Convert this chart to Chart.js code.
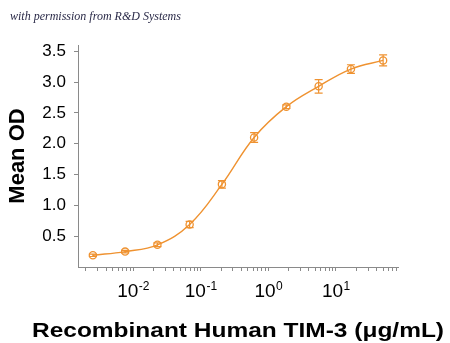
<!DOCTYPE html>
<html>
<head>
<meta charset="utf-8">
<script src="https://cdn.jsdelivr.net/npm/chart.js@4"></script>
<style>
    html, body { margin: 0; padding: 0; background: #fff; }
    #wrap { width: 450px; height: 343px; }
</style>
</head>
<body>
<div id="wrap"><canvas id="chart"></canvas></div>
<script>
// concentrations (ug/mL), 3-fold dilution series
const concentrations = [0.00254, 0.00762, 0.0229, 0.0686, 0.206, 0.617, 1.85, 5.56, 16.7, 50];
const meanOD = [0.19, 0.25, 0.36, 0.69, 1.34, 2.10, 2.60, 2.93, 3.21, 3.35];
const odError = [0.02, 0.02, 0.03, 0.05, 0.06, 0.08, 0.03, 0.11, 0.07, 0.09];

const yTicks = [0.5, 1.0, 1.5, 2.0, 2.5, 3.0, 3.5];
const xDecades = [0.01, 0.1, 1, 10];
const xDecadeExponents = ['-2', '-1', '0', '1'];
const xMin = 0.00153;
const xMax = 83;
const xTitle = 'Recombinant Human TIM-3 (\u03BCg/mL)';

const ORANGE = '#EF9230';
const AXIS = '#8a8a8a';
const SANS = 'Arial, "Liberation Sans", sans-serif';

const points = concentrations.map((x, i) => ({ x, y: meanOD[i] }));

// log ticks: 1..9 in each decade
const buildXTicks = () => {
    const ticks = [];
    [0.001, ...xDecades].forEach(d => {
        for (let k = 1; k <= 9; k++) {
            const v = d * k;
            if (v >= xMin && v <= xMax) ticks.push({ value: v, major: k === 1 });
        }
    });
    return ticks;
};

const errorBars = {
    id: 'errorBars',
    afterDatasetsDraw(chart) {
        const { ctx, scales: { y } } = chart;
        const meta = chart.getDatasetMeta(1);
        ctx.save();
        ctx.strokeStyle = ORANGE;
        ctx.lineWidth = 1.2;
        meta.data.forEach((pt, i) => {
            const top = y.getPixelForValue(meanOD[i] + odError[i]);
            const bot = y.getPixelForValue(meanOD[i] - odError[i]);
            ctx.beginPath();
            ctx.moveTo(pt.x, top); ctx.lineTo(pt.x, bot);
            ctx.moveTo(pt.x - 4, top); ctx.lineTo(pt.x + 4, top);
            ctx.moveTo(pt.x - 4, bot); ctx.lineTo(pt.x + 4, bot);
            ctx.stroke();
        });
        ctx.restore();
    }
};

// "10" with a superscript exponent under each decade tick, plus the x title
const xLabels = {
    id: 'xLabels',
    afterDraw(chart) {
        const { ctx, chartArea, scales: { x } } = chart;
        const baseY = chartArea.bottom + 30;
        ctx.save();
        ctx.fillStyle = '#000';
        ctx.textBaseline = 'alphabetic';
        ctx.textAlign = 'left';
        xDecades.forEach((d, i) => {
            const px = x.getPixelForValue(d);
            ctx.font = `19px ${SANS}`;
            const wBase = ctx.measureText('10').width;
            ctx.font = `12px ${SANS}`;
            const wExp = ctx.measureText(xDecadeExponents[i]).width;
            const left = px - (wBase + wExp) / 2;
            ctx.font = `19px ${SANS}`;
            ctx.fillText('10', left, baseY);
            ctx.font = `12px ${SANS}`;
            ctx.fillText(xDecadeExponents[i], left + wBase + 0.5, baseY - 7);
        });

        ctx.font = `bold 20px ${SANS}`;
        const w = ctx.measureText(xTitle).width;
        const cx = (chartArea.left + chartArea.right) / 2;
        ctx.translate(cx, 337);
        ctx.scale(412 / w, 1);
        ctx.textAlign = 'center';
        ctx.fillText(xTitle, 0, 0);
        ctx.restore();
    }
};

new Chart(document.getElementById('chart'), {
    type: 'scatter',
    data: {
        datasets: [{
            data: points,
            showLine: true,
            borderColor: ORANGE,
            borderWidth: 1.4,
            pointRadius: 0,
            tension: 0.4,
            fill: false
        }, {
            data: points,
            showLine: false,
            pointRadius: 3.6,
            pointBorderWidth: 1.3,
            pointBorderColor: ORANGE,
            pointBackgroundColor: 'rgba(255,255,255,0)'
        }]
    },
    options: {
        responsive: true,
        maintainAspectRatio: false,
        animation: false,
        layout: { padding: { left: 10, right: 52, top: 0, bottom: 0 } },
        plugins: {
            legend: { display: false },
            tooltip: { enabled: false },
            title: {
                display: true,
                text: 'with permission from R&D Systems',
                align: 'start',
                color: '#2a2a48',
                font: { family: '"Liberation Serif", "DejaVu Serif", serif', size: 12, style: 'italic', weight: 'normal', lineHeight: 1 },
                padding: { top: 11, bottom: 22 }
            }
        },
        scales: {
            x: {
                type: 'logarithmic',
                min: xMin,
                max: xMax,
                afterBuildTicks: scale => { scale.ticks = buildXTicks(); },
                afterFit: scale => { scale.height = 76; },
                border: { color: AXIS, width: 1 },
                grid: { drawOnChartArea: false, drawTicks: true, tickLength: 4, color: AXIS },
                ticks: {
                    autoSkip: false,
                    maxRotation: 0,
                    callback: () => ''
                }
            },
            y: {
                min: 0,
                max: 3.6,
                afterBuildTicks: scale => { scale.ticks = yTicks.map(v => ({ value: v })); },
                afterFit: scale => { scale.width = 68; },
                border: { color: AXIS, width: 1 },
                grid: { drawOnChartArea: false, drawTicks: true, tickLength: 4, color: AXIS },
                ticks: {
                    padding: 8,
                    color: '#000',
                    font: { family: SANS, size: 17 },
                    callback: value => value.toFixed(1)
                },
                title: {
                    display: true,
                    text: 'Mean OD',
                    color: '#000',
                    font: { family: SANS, size: 22, weight: 'bold', lineHeight: 0.7 },
                    padding: { top: 0, bottom: 0 }
                }
            }
        }
    },
    plugins: [errorBars, xLabels]
});
</script>
</body>
</html>
